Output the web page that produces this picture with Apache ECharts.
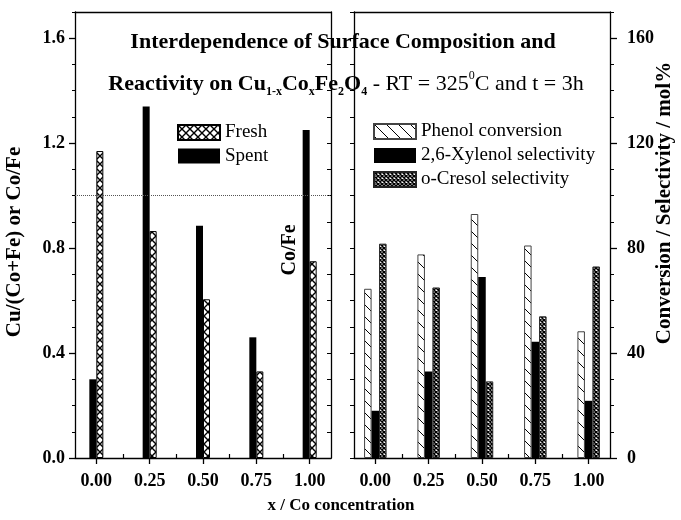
<!DOCTYPE html>
<html><head><meta charset="utf-8">
<script src="https://cdn.jsdelivr.net/npm/echarts@6/dist/echarts.min.js"></script>
<style>html,body{margin:0;padding:0;background:#fff}#c{width:681px;height:520px}</style>
</head><body><div id="c"></div>
<script>
// ---- data ----
const categories = ['0.00', '0.25', '0.50', '0.75', '1.00'];
const xValues = [0, 0.25, 0.5, 0.75, 1.0];
const xMinorTicks = [0.125, 0.375, 0.625, 0.875];
const spent = [0.30, 1.34, 0.885, 0.46, 1.25];
const fresh = [1.17, 0.865, 0.605, 0.33, 0.75];
const phenolConversion = [64.5, 77.6, 93.0, 81.0, 48.3];
const xylenolSelectivity = [18.0, 33.0, 69.0, 44.3, 21.8];
const cresolSelectivity = [81.7, 65.0, 29.2, 54.0, 73.0];
const leftTicks = [0, 0.4, 0.8, 1.2, 1.6];
const rightTicks = [0, 40, 80, 120, 160];
const referenceRatio = 1.0;

const SERIF = '"Liberation Serif", "Times New Roman", serif';

function pattern(size, draw) {
  const c = document.createElement('canvas');
  c.width = size; c.height = size;
  const g = c.getContext('2d');
  g.fillStyle = '#fff'; g.fillRect(0, 0, size, size);
  g.strokeStyle = '#000';
  draw(g, size);
  return { image: c, repeat: 'repeat' };
}
const crossHatch = pattern(8, (g, s) => {
  g.lineWidth = 1.4; g.beginPath();
  g.moveTo(0, 0); g.lineTo(s, s); g.moveTo(s, 0); g.lineTo(0, s); g.stroke();
});
const diagLines = pattern(12, (g, s) => {
  g.lineWidth = 1; g.beginPath();
  for (let k = -1; k <= 1; k++) { g.moveTo(0, k * s); g.lineTo(s, s + k * s); }
  g.stroke();
});
const denseHatch = pattern(4, (g, s) => {
  g.lineWidth = 1.5; g.beginPath();
  g.moveTo(0, 0); g.lineTo(s, s); g.moveTo(s, 0); g.lineTo(0, s); g.stroke();
});

const pairs = (vals) => xValues.map((x, i) => [x, vals[i]]);
const catLabel = (v) => { const i = xValues.findIndex(x => Math.abs(x - v) < 1e-6); return i >= 0 ? categories[i] : ''; };

const axisLine = { show: true, onZero: false, lineStyle: { color: '#000', width: 1.3 } };
const noLine = { show: false, onZero: false };
const labelFont = { fontFamily: SERIF, fontWeight: 'bold', fontSize: 18, color: '#000' };

function xAxesFor(gridIndex) {
  return [
    { gridIndex, type: 'value', position: 'bottom', min: -0.1, max: 1.1,
      axisLine, splitLine: { show: false },
      axisTick: { show: true, customValues: xValues, length: 6, lineStyle: { color: '#000', width: 1.3 } },
      axisLabel: Object.assign({ show: true, customValues: xValues, formatter: catLabel, margin: 14 }, labelFont) },
    { gridIndex, type: 'value', position: 'bottom', min: -0.1, max: 1.1,
      axisLine: noLine, splitLine: { show: false }, axisLabel: { show: false },
      axisTick: { show: true, inside: true, customValues: xMinorTicks, length: 4, lineStyle: { color: '#000', width: 1.2 } } },
    { gridIndex, type: 'value', position: 'top', min: -0.1, max: 1.1,
      axisLine, splitLine: { show: false }, axisLabel: { show: false }, axisTick: { show: false } }
  ];
}

const option = {
  animation: false,
  backgroundColor: '#fff',
  grid: [
    { left: 75, top: 12, width: 256, height: 446 },
    { left: 354, top: 12, width: 256, height: 446 }
  ],
  xAxis: [...xAxesFor(0), ...xAxesFor(1)],
  yAxis: [
    { gridIndex: 0, type: 'value', position: 'left', min: 0, max: 1.7,
      axisLine, splitLine: { show: false },
      axisTick: { show: true, customValues: leftTicks, length: 6, lineStyle: { color: '#000', width: 1.3 } },
      axisLabel: Object.assign({ show: true, customValues: leftTicks, formatter: v => v.toFixed(1), margin: 10 }, labelFont) },
    { gridIndex: 0, type: 'value', position: 'left', min: 0, max: 1.7, interval: 0.1,
      axisLine: noLine, splitLine: { show: false }, axisLabel: { show: false },
      axisTick: { show: true, length: 3, lineStyle: { color: '#000', width: 1 } } },
    { gridIndex: 0, type: 'value', position: 'right', min: 0, max: 1.7, interval: 0.1,
      axisLine, splitLine: { show: false }, axisLabel: { show: false },
      axisTick: { show: true, inside: true, length: 4, lineStyle: { color: '#000', width: 1 } } },
    { gridIndex: 1, type: 'value', position: 'left', min: 0, max: 170, interval: 10,
      axisLine, splitLine: { show: false }, axisLabel: { show: false },
      axisTick: { show: true, length: 4, lineStyle: { color: '#000', width: 1 } } },
    { gridIndex: 1, type: 'value', position: 'right', min: 0, max: 170,
      axisLine, splitLine: { show: false },
      axisTick: { show: true, customValues: rightTicks, length: 7, lineStyle: { color: '#000', width: 1.3 } },
      axisLabel: Object.assign({ show: true, customValues: rightTicks, formatter: v => String(v), margin: 17 }, labelFont) },
    { gridIndex: 1, type: 'value', position: 'right', min: 0, max: 170, interval: 10,
      axisLine: noLine, splitLine: { show: false }, axisLabel: { show: false },
      axisTick: { show: true, length: 4, lineStyle: { color: '#000', width: 1 } } }
  ],
  legend: [
    { data: ['Fresh', 'Spent'], left: 177, top: 123, orient: 'vertical', padding: 0,
      itemWidth: 42, itemHeight: 15, itemGap: 4.5, icon: 'rect', selectedMode: false,
      textStyle: { fontFamily: SERIF, fontSize: 19, color: '#000' } },
    { data: ['Phenol conversion', '2,6-Xylenol selectivity', 'o-Cresol selectivity'], left: 373, top: 122,
      orient: 'vertical', padding: 0, itemWidth: 42, itemHeight: 15, itemGap: 5, icon: 'rect', selectedMode: false,
      textStyle: { fontFamily: SERIF, fontSize: 19, color: '#000' } }
  ],
  series: [
    { name: 'Spent', type: 'bar', xAxisIndex: 0, yAxisIndex: 0, barWidth: 7, barGap: '0%',
      data: pairs(spent), itemStyle: { color: '#000' },
      markLine: { silent: true, symbol: ['none', 'none'], label: { show: false },
        lineStyle: { type: 'dotted', color: '#555', width: 1 }, data: [{ yAxis: referenceRatio }] } },
    { name: 'Fresh', type: 'bar', xAxisIndex: 0, yAxisIndex: 0, barWidth: 7, barGap: '0%',
      data: pairs(fresh), itemStyle: { color: crossHatch, borderColor: '#000', borderWidth: 1 } },
    { name: 'Phenol conversion', type: 'bar', xAxisIndex: 3, yAxisIndex: 4, barWidth: 7.5, barGap: '0%',
      data: pairs(phenolConversion), itemStyle: { color: diagLines, borderColor: '#444', borderWidth: 1 } },
    { name: '2,6-Xylenol selectivity', type: 'bar', xAxisIndex: 3, yAxisIndex: 4, barWidth: 7.5, barGap: '0%',
      data: pairs(xylenolSelectivity), itemStyle: { color: '#000' } },
    { name: 'o-Cresol selectivity', type: 'bar', xAxisIndex: 3, yAxisIndex: 4, barWidth: 7.5, barGap: '0%',
      data: pairs(cresolSelectivity), itemStyle: { color: denseHatch, borderColor: '#222', borderWidth: 1 } }
  ],
  graphic: [
    { type: 'text', x: 343, y: 42, style: { text: 'Interdependence of Surface Composition and',
      font: 'bold 22px ' + SERIF, fill: '#000', align: 'center', verticalAlign: 'middle' } },
    { type: 'text', x: 346, y: 84, style: {
      text: '{b|Reactivity on Cu}{s|1-x}{b|Co}{s|x}{b|Fe}{s|2}{b|O}{s|4}{n| - RT = 325}{p|0}{n|C and t = 3h}',
      align: 'center', verticalAlign: 'middle', fill: '#000',
      rich: {
        b: { fontFamily: SERIF, fontWeight: 'bold', fontSize: 22, lineHeight: 28, fill: '#000' },
        n: { fontFamily: SERIF, fontSize: 22, lineHeight: 28, fill: '#000' },
        s: { fontFamily: SERIF, fontWeight: 'bold', fontSize: 12, lineHeight: 12, verticalAlign: 'bottom', fill: '#000' },
        p: { fontFamily: SERIF, fontSize: 12, lineHeight: 12, verticalAlign: 'top', fill: '#000' }
      } } },
    { type: 'text', x: 290, y: 250, rotation: Math.PI / 2, style: { text: 'Co/Fe',
      font: 'bold 20px ' + SERIF, fill: '#000', align: 'center', verticalAlign: 'middle' } },
    { type: 'text', x: 15, y: 242, rotation: Math.PI / 2, style: { text: 'Cu/(Co+Fe) or Co/Fe',
      font: 'bold 21px ' + SERIF, fill: '#000', align: 'center', verticalAlign: 'middle' } },
    { type: 'text', x: 665, y: 203, rotation: Math.PI / 2, style: { text: 'Conversion / Selectivity / mol%',
      font: 'bold 21px ' + SERIF, fill: '#000', align: 'center', verticalAlign: 'middle' } },
    { type: 'text', x: 341, y: 506, style: { text: 'x / Co concentration',
      font: 'bold 17px ' + SERIF, fill: '#000', align: 'center', verticalAlign: 'middle' } }
  ]
};

const chart = echarts.init(document.getElementById('c'), null, { renderer: 'canvas' });
chart.setOption(option);
</script>
</body></html>
